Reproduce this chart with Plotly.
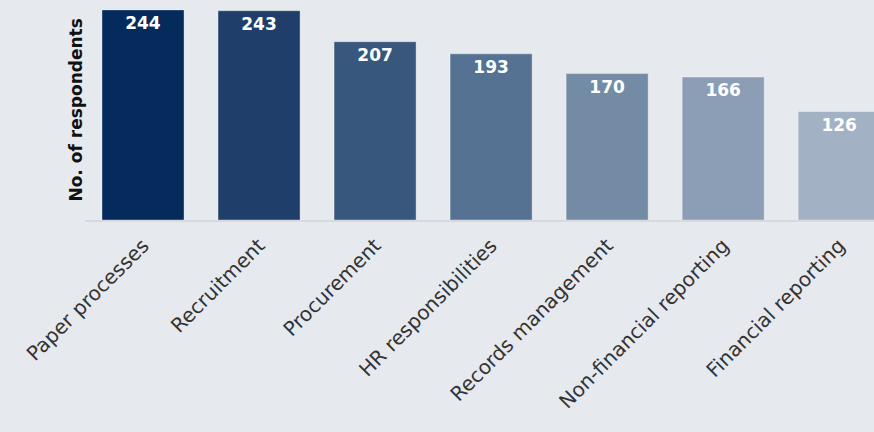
import plotly.graph_objects as go

categories = [
    "Paper processes",
    "Recruitment",
    "Procurement",
    "HR responsibilities",
    "Records management",
    "Non-financial reporting",
    "Financial reporting",
]
respondents = [244, 243, 207, 193, 170, 166, 126]
bar_colors = ["#052b5c", "#1f3e6a", "#37577d", "#557293", "#748ba5", "#8b9eb6", "#a3b1c4"]

BG = "#e6e9ee"

fig = go.Figure()
fig.add_bar(
    x=categories,
    y=respondents,
    marker=dict(color=bar_colors, line=dict(color="rgba(255,255,255,0.35)", width=1)),
    text=respondents,
    textposition="inside",
    insidetextanchor="end",
    textfont=dict(family="DejaVu Sans", size=17, color="white", weight="bold"),
    cliponaxis=True,
)

fig.add_annotation(
    text="<b>No. of respondents</b>",
    xref="paper", yref="paper",
    x=-0.012, y=0.5,
    xanchor="center", yanchor="middle",
    textangle=-90,
    showarrow=False,
    font=dict(family="DejaVu Sans", size=17, color="#111111"),
)

fig.update_layout(
    width=874,
    height=432,
    margin=dict(l=85, r=0, t=0, b=212),
    paper_bgcolor=BG,
    plot_bgcolor=BG,
    bargap=0.293,
    showlegend=False,
    xaxis=dict(
        range=[-0.5, 6.30],
        tickangle=-45,
        tickfont=dict(family="DejaVu Sans", size=20, color="#333333"),
        showline=True,
        linecolor="#d6d9de",
        linewidth=2,
        showgrid=False,
        ticks="outside",
        ticklen=4,
        tickcolor="rgba(0,0,0,0)",
    ),
    yaxis=dict(
        range=[0, 255.5],
        showticklabels=False,
        showgrid=False,
        zeroline=False,
        ticks="",
    ),
)

fig.write_html(
    "out.html",
    config={"displayModeBar": False},
    post_script="document.body.style.margin='0';document.body.style.background='%s';" % BG,
)
